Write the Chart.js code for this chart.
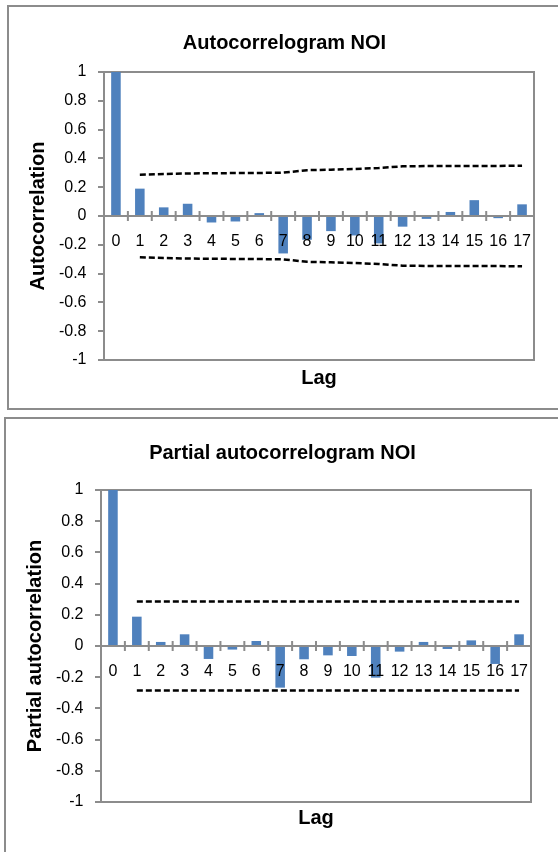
<!DOCTYPE html>
<html>
<head>
<meta charset="utf-8">
<script src="https://cdn.jsdelivr.net/npm/chart.js@4.4.1/dist/chart.umd.min.js"></script>
<style>
  html, body { margin: 0; padding: 0; background: #fff; overflow: hidden; width: 558px; height: 852px; }
  .chart-box { position: absolute; border: 2px solid #8c8c8c; background: #fff; }
  .chart-box canvas { display: block; }
  #acf-box { left: 7px; top: 5px; width: 549px; height: 401px; }
  #pacf-box { left: 4px; top: 417px; width: 552px; height: 440px; }
</style>
</head>
<body>
<div class="chart-box" id="acf-box"><canvas id="acf" width="549" height="401"></canvas></div>
<div class="chart-box" id="pacf-box"><canvas id="pacf" width="552" height="440"></canvas></div>
<script>
// lags 0..17
const lags = ['0', '1', '2', '3', '4', '5', '6', '7', '8', '9', '10', '11', '12', '13', '14', '15', '16', '17'];

// autocorrelogram
const acfValues = [1, 0.19, 0.06, 0.085, -0.045, -0.038, 0.02, -0.26, -0.165, -0.105, -0.135, -0.19, -0.074, -0.02, 0.028, 0.11, -0.015, 0.081];
const acfUpper = [null, 0.287, 0.292, 0.295, 0.297, 0.298, 0.299, 0.301, 0.318, 0.322, 0.327, 0.333, 0.345, 0.347, 0.347, 0.348, 0.348, 0.349];
const acfLower = [null, -0.287, -0.292, -0.295, -0.297, -0.298, -0.299, -0.301, -0.318, -0.322, -0.327, -0.333, -0.345, -0.347, -0.347, -0.348, -0.348, -0.349];

// partial autocorrelogram
const pacfValues = [1, 0.188, 0.026, 0.075, -0.083, -0.023, 0.032, -0.267, -0.085, -0.06, -0.064, -0.203, -0.036, 0.026, -0.019, 0.036, -0.115, 0.075];
const pacfUpper = [null, 0.286, 0.286, 0.286, 0.286, 0.286, 0.286, 0.286, 0.286, 0.286, 0.286, 0.286, 0.286, 0.286, 0.286, 0.286, 0.286, 0.286];
const pacfLower = [null, -0.286, -0.286, -0.286, -0.286, -0.286, -0.286, -0.286, -0.286, -0.286, -0.286, -0.286, -0.286, -0.286, -0.286, -0.286, -0.286, -0.286];

const FONT = "'Liberation Sans', Arial, sans-serif";
const AXIS_GREY = '#8c8c8c';
const BAR_BLUE = '#4f81bd';

// plot-area frame, drawn behind the bars
const plotFrame = {
    id: 'plotFrame',
    beforeDatasetsDraw(chart) {
        const { ctx, chartArea: a } = chart;
        ctx.save();
        ctx.strokeStyle = AXIS_GREY;
        ctx.lineWidth = 2;
        ctx.strokeRect(a.left, a.top, a.right - a.left, a.bottom - a.top);
        ctx.restore();
    },
};

// Excel-style tick marks crossing the category axis, between categories
const crossTicks = {
    id: 'crossTicks',
    afterDatasetsDraw(chart) {
        const x = chart.scales.x, y = chart.scales.y;
        const ctx = chart.ctx;
        const y0 = y.getPixelForValue(0);
        const step = x.getPixelForValue(1) - x.getPixelForValue(0);
        ctx.save();
        ctx.strokeStyle = AXIS_GREY;
        ctx.lineWidth = 2;
        ctx.beginPath();
        for (let i = 0; i <= lags.length; i++) {
            const px = x.getPixelForValue(0) - step / 2 + i * step;
            ctx.moveTo(px, y0 - 5);
            ctx.lineTo(px, y0 + 5);
        }
        ctx.stroke();
        ctx.restore();
    },
};

function makeChart(canvasId, cfg) {
    const bound = data => ({
        type: 'line',
        data,
        xAxisID: 'x',
        borderColor: '#000',
        borderWidth: 2.5,
        borderDash: [6, 3],
        pointRadius: 0,
        fill: false,
        tension: 0,
    });
    return new Chart(document.getElementById(canvasId), {
        type: 'bar',
        data: {
            labels: lags,
            datasets: [
                bound(cfg.upper),
                bound(cfg.lower),
                {
                    data: cfg.values,
                    xAxisID: 'x',
                    backgroundColor: BAR_BLUE,
                    barPercentage: 0.4,
                    categoryPercentage: 1,
                },
            ],
        },
        options: {
            responsive: false,
            animation: false,
            events: [],
            layout: { padding: cfg.padding },
            plugins: {
                legend: { display: false },
                tooltip: { enabled: false },
                title: {
                    display: true,
                    text: cfg.title,
                    color: '#000',
                    font: { family: FONT, size: 20, weight: 'bold', lineHeight: 1.2 },
                    padding: cfg.titlePadding,
                },
            },
            scales: {
                x: {
                    type: 'category',
                    position: { y: 0 },
                    offset: true,
                    grid: { display: false },
                    border: { display: true, color: AXIS_GREY, width: 2, z: 1 },
                    ticks: { z: 1, color: '#000', padding: 8, maxRotation: 0, autoSkip: false, font: { family: FONT, size: 16 } },
                },
                x2: {
                    type: 'category',
                    position: 'bottom',
                    offset: true,
                    grid: { display: false },
                    border: { display: false },
                    ticks: { display: false },
                    title: {
                        display: true,
                        text: 'Lag',
                        color: '#000',
                        font: { family: FONT, size: 20, weight: 'bold', lineHeight: 1.2 },
                        padding: { top: 0, bottom: cfg.lagPad },
                    },
                    afterFit(scale) { scale.height = cfg.lagHeight; },
                },
                y: {
                    min: -1,
                    max: 1,
                    grid: { drawOnChartArea: false, drawTicks: true, tickLength: 6, color: AXIS_GREY, lineWidth: 2 },
                    border: { display: true, color: AXIS_GREY, width: 2 },
                    ticks: {
                        stepSize: 0.2,
                        color: '#000',
                        padding: 11.5,
                        font: { family: FONT, size: 16 },
                        callback: v => String(Math.round(v * 10) / 10),
                    },
                    title: {
                        display: true,
                        text: cfg.yTitle,
                        color: '#000',
                        font: { family: FONT, size: 20, weight: 'bold', lineHeight: 1.2 },
                        padding: { top: cfg.yTitlePad, bottom: 0 },
                    },
                    afterFit(scale) { scale.width = cfg.yWidth; },
                },
            },
        },
        plugins: [plotFrame, crossTicks],
    });
}

makeChart('acf', {
    title: 'Autocorrelogram NOI',
    yTitle: 'Autocorrelation',
    values: acfValues,
    upper: acfUpper,
    lower: acfLower,
    padding: { left: 26, right: 24, top: 0, bottom: 0 },
    titlePadding: { top: 24, bottom: 17 },
    yWidth: 69,
    yTitlePad: -9,
    lagHeight: 48,
    lagPad: 18,
});

makeChart('pacf', {
    title: 'Partial autocorrelogram NOI',
    yTitle: 'Partial autocorrelation',
    values: pacfValues,
    upper: pacfUpper,
    lower: pacfLower,
    padding: { left: 28, right: 27, top: 0, bottom: 0 },
    titlePadding: { top: 22, bottom: 25 },
    yWidth: 67,
    yTitlePad: -11,
    lagHeight: 57,
    lagPad: 29,
});
</script>
</body>
</html>
